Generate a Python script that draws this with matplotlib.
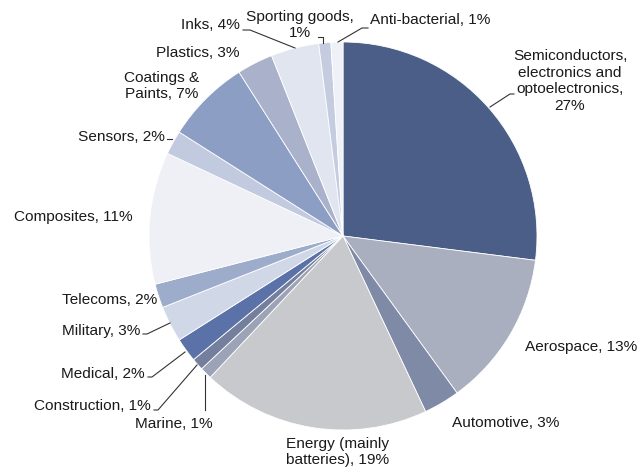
import matplotlib.pyplot as plt

plt.rcParams['font.family'] = ['Liberation Sans', 'DejaVu Sans']

labels = ["Semiconductors,\nelectronics and\noptoelectronics,\n27%",
          "Aerospace, 13%", "Automotive, 3%", "Energy (mainly\nbatteries), 19%",
          "Marine, 1%", "Construction, 1%", "Medical, 2%", "Military, 3%",
          "Telecoms, 2%", "Composites, 11%", "Sensors, 2%",
          "Coatings &\nPaints, 7%", "Plastics, 3%", "Inks, 4%",
          "Sporting goods,\n1%", "Anti-bacterial, 1%"]
shares = [27, 13, 3, 19, 1, 1, 2, 3, 2, 11, 2, 7, 3, 4, 1, 1]
colors = ["#4a5e88", "#a9afbf", "#7f8aa6", "#c8c9cd", "#9ca3b6", "#737f9c",
          "#5b72a8", "#d0d8e8", "#9dacca", "#eef0f6", "#c2cadf", "#8c9ec4",
          "#aab2cb", "#e1e5ef", "#c5cce0", "#eef1f7"]

H = 470


def px(x, y):
    # pixel position measured from the top left
    return x, H - y


fig = plt.figure(figsize=(6.4, 4.7), dpi=100)
ax = fig.add_axes([0, 0, 1, 1])
ax.pie(shares, colors=colors, startangle=90, counterclock=False,
       center=px(343, 236), radius=194,
       wedgeprops=dict(edgecolor="white", linewidth=0.6, alpha=1))
ax.set_xlim(0, 640)
ax.set_ylim(0, H)
ax.set_aspect("equal")
ax.axis("off")

# label positions (x, y, ha) and leader lines
places = [
    (570, 81, "center"),
    (525, 347, "left"),
    (452, 423, "left"),
    (338, 452, "center"),
    (135, 424, "left"),
    (151, 406, "right"),
    (145, 374, "right"),
    (140, 331, "right"),
    (157, 300, "right"),
    (133, 217, "right"),
    (165, 137, "right"),
    (162, 86, "center"),
    (198, 53, "center"),
    (240, 25, "right"),
    (300, 25, "center"),
    (370, 20, "left"),
]
leaders = [
    [(490, 107), (510, 94), (514, 94)],
    None,
    None,
    None,
    [(205, 375), (205, 410)],
    [(197, 365), (158, 410), (154, 410)],
    [(185, 352), (152, 377), (148, 377)],
    [(170, 323), (147, 334), (143, 334)],
    None,
    None,
    [(172, 139), (167, 139)],
    None,
    None,
    [(295, 48), (250, 30), (243, 30)],
    [(323, 43), (323, 37), (318, 37)],
    [(338, 42), (362, 28), (368, 28)],
]

for lab, (x, y, ha), pts in zip(labels, places, leaders):
    ax.text(*px(x, y), lab, ha=ha, va="center", fontsize=11.1,
            color="#1a1a1a", linespacing=1.25)
    if pts:
        xs = [p[0] for p in pts]
        ys = [H - p[1] for p in pts]
        ax.plot(xs, ys, color="#333333", lw=0.8)

fig.savefig("out.png", dpi=100)
